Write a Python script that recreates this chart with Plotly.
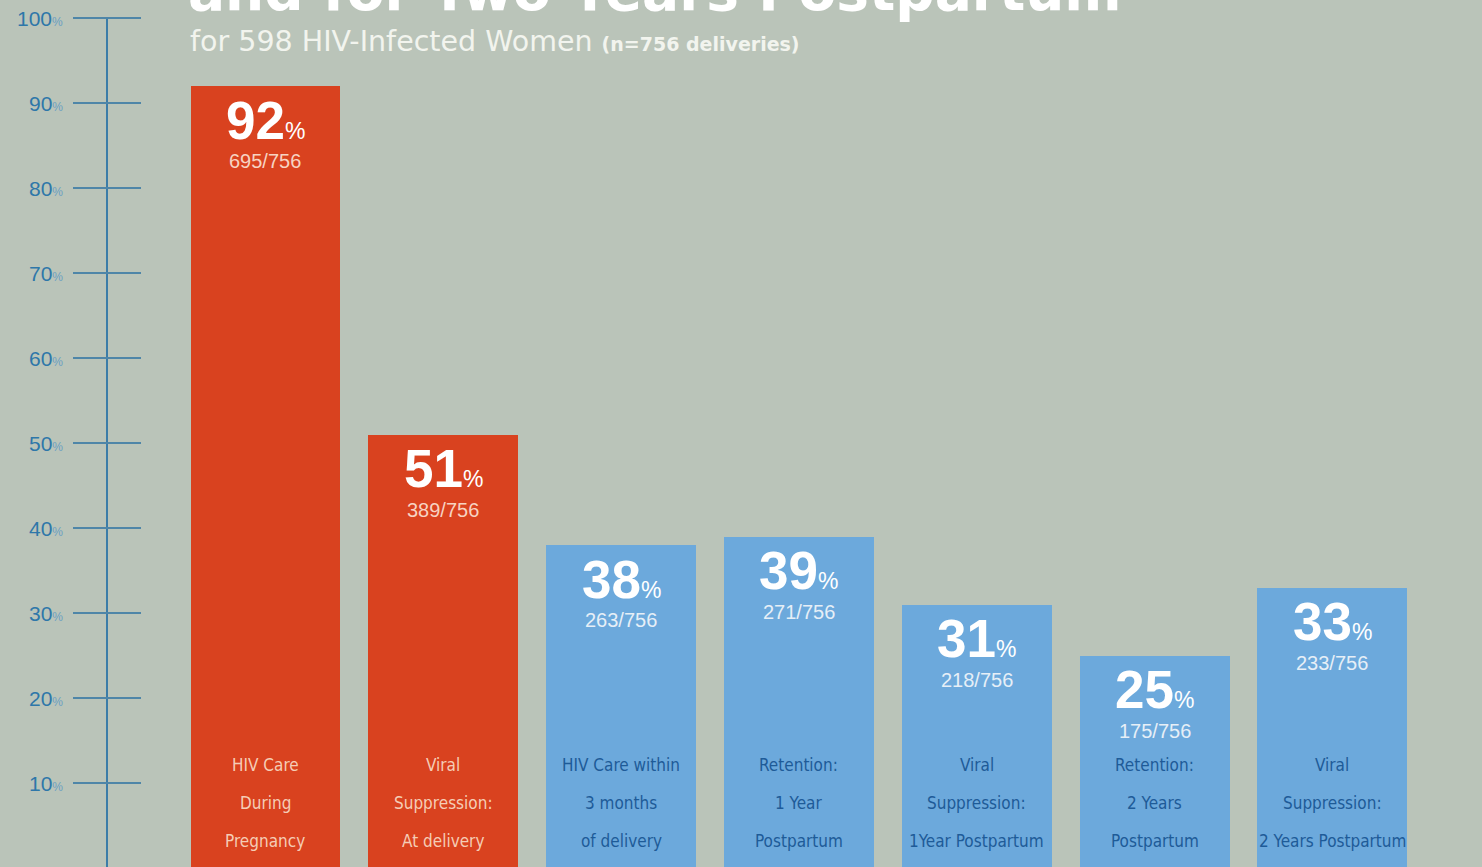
import plotly.graph_objects as go

# ---- data ----
categories = [
    ["HIV Care", "During", "Pregnancy"],
    ["Viral", "Suppression:", "At delivery"],
    ["HIV Care within", "3 months", "of delivery"],
    ["Retention:", "1 Year", "Postpartum"],
    ["Viral", "Suppression:", "1Year Postpartum"],
    ["Retention:", "2 Years", "Postpartum"],
    ["Viral", "Suppression:", "2 Years Postpartum"],
]
percent = [92, 51, 38, 39, 31, 25, 33]
counts = ["695/756", "389/756", "263/756", "271/756", "218/756", "175/756", "233/756"]
phase = ["pregnancy", "pregnancy", "post", "post", "post", "post", "post"]
y_ticks = [10, 20, 30, 40, 50, 60, 70, 80, 90, 100]

title_text = "and for Two Years Postpartum"
subtitle_main = "for 598 HIV-Infected Women"
subtitle_small = "(n=756 deliveries)"

# ---- styles ----
W, H = 1482, 867
BG = "#BAC4B9"
RED = "#D9421F"
BLUE = "#6CA9DC"
AXIS = "#3C7DA8"
bar_color = {"pregnancy": RED, "post": BLUE}
frac_color = {"pregnancy": "#F7D3C2", "post": "#E6EFF7"}
cat_color = {"pregnancy": "#F5CDB6", "post": "#1E5B98"}

x = list(range(len(percent)))

fig = go.Figure()
fig.add_trace(go.Bar(
    x=x, y=percent, width=0.843,
    marker=dict(color=[bar_color[p] for p in phase], line=dict(width=0)),
    hoverinfo="skip", showlegend=False,
))

def px_x(p):
    return p / W

annotations = []
shapes = []

# axis line and ticks
shapes.append(dict(type="line", xref="paper", yref="y", x0=px_x(107), x1=px_x(107),
                   y0=-2, y1=100, line=dict(color=AXIS, width=2)))
for t in y_ticks:
    shapes.append(dict(type="line", xref="paper", yref="y", x0=px_x(73), x1=px_x(141),
                       y0=t, y1=t, line=dict(color="#4F86A8", width=2)))
    annotations.append(dict(
        xref="paper", yref="y", x=px_x(65), y=t, xanchor="right", yanchor="middle",
        text=f"{t}<span style='font-size:12px;fill:#6A9FC2'>%</span>",
        showarrow=False, font=dict(family="Liberation Sans, Arial", size=21, color="#2E77A9"),
    ))

# bar labels
for i, (v, c, ph, cat) in enumerate(zip(percent, counts, phase, categories)):
    annotations.append(dict(
        x=i, y=v, xref="x", yref="y", yanchor="middle", xanchor="center", yshift=-34,
        text=f"<b>{v}</b><span style='font-size:23px'>%</span>",
        showarrow=False, font=dict(family="Liberation Sans, Arial", size=53, color="white"),
    ))
    annotations.append(dict(
        x=i, y=v, xref="x", yref="y", yanchor="middle", xanchor="center", yshift=-75,
        text=c, showarrow=False,
        font=dict(family="Liberation Sans, Arial", size=20, color=frac_color[ph]),
    ))
    for j, line in enumerate(cat):
        annotations.append(dict(
            x=i, y=0, xref="x", yref="paper", yanchor="middle", xanchor="center",
            yshift=102 - 38 * j,
            text=line, showarrow=False,
            font=dict(family="Liberation Sans Narrow, DejaVu Sans Condensed, Arial Narrow",
                      size=17, color=cat_color[ph]),
        ))

# titles
annotations.append(dict(
    xref="paper", yref="paper", x=px_x(186), y=1 - 25 / H, xanchor="left", yanchor="bottom",
    text=f"<b>{title_text}</b>", showarrow=False,
    font=dict(family="DejaVu Sans, Liberation Sans", size=55, color="white"),
))
annotations.append(dict(
    xref="paper", yref="paper", x=px_x(188), y=1 - 41 / H, xanchor="left", yanchor="middle",
    text=f"{subtitle_main} <b><span style='font-size:19px'>{subtitle_small}</span></b>",
    showarrow=False,
    font=dict(family="DejaVu Sans, Liberation Sans", size=28.5, color="#F2F4EE"),
))

fig.update_layout(
    width=W, height=H,
    margin=dict(l=0, r=0, t=0, b=0),
    paper_bgcolor=BG, plot_bgcolor=BG,
    xaxis=dict(range=[-1.493, 6.841], visible=False, fixedrange=True),
    yaxis=dict(range=[0.12, 102.12], visible=False, fixedrange=True),
    shapes=shapes, annotations=annotations,
    bargap=0,
)

fig.write_html("out.html", config={"displayModeBar": False},
               post_script="document.body.style.margin='0';document.body.style.overflow='hidden';")
